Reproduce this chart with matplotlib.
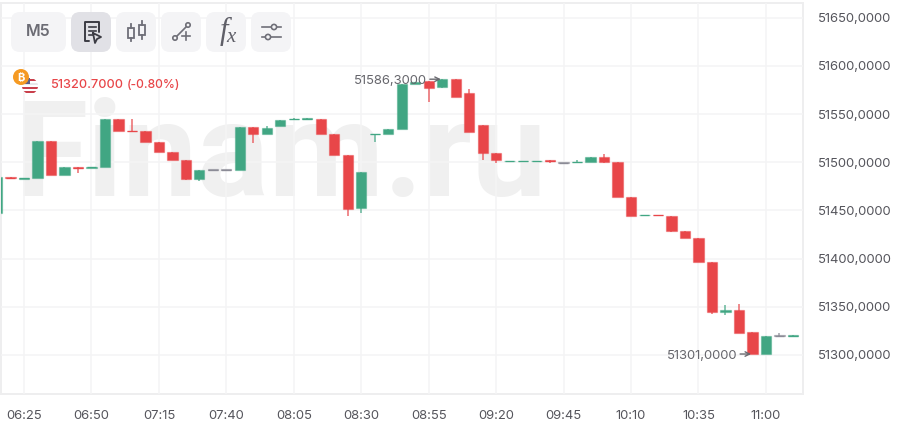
import matplotlib
matplotlib.use("Agg")
import matplotlib.pyplot as plt
from matplotlib.patches import FancyBboxPatch, Circle, Rectangle

plt.rcParams['font.family'] = ['Inter', 'DejaVu Sans']

# M5 candles, 06:15 - 11:10
opens = [51447.4, 51484.8, 51483.0, 51483.7, 51522.4, 51486.4, 51495.1, 51494.6, 51495.1, 51544.6,
         51533.0, 51532.5, 51521.1, 51510.7, 51502.9, 51482.7, 51492.0, 51492.0, 51492.3, 51536.7,
         51529.0, 51538.2, 51544.6, 51545.0, 51545.3, 51529.4, 51507.1, 51452.6, 51529.0, 51529.4,
         51535.1, 51581.3, 51584.4, 51578.7, 51586.0, 51572.0, 51539.0, 51509.7, 51501.0, 51501.0,
         51501.0, 51501.9, 51499.8, 51500.0, 51500.3, 51505.5, 51500.3, 51464.0, 51444.9, 51445.6,
         51444.6, 51429.0, 51421.1, 51396.8, 51345.0, 51347.2, 51323.9, 51301.0, 51319.7, 51319.5]
closes = [51484.8, 51483.7, 51484.0, 51522.4, 51486.4, 51495.1, 51494.1, 51495.4, 51544.6, 51533.0,
          51532.3, 51521.1, 51510.7, 51502.9, 51482.7, 51492.0, 51492.0, 51492.0, 51536.7, 51529.0,
          51535.3, 51544.4, 51545.4, 51545.6, 51529.4, 51507.1, 51451.5, 51490.0, 51529.8, 51535.1,
          51581.3, 51583.4, 51577.1, 51586.3, 51568.3, 51532.0, 51509.7, 51501.9, 51501.8, 51501.8,
          51501.8, 51501.0, 51499.8, 51500.6, 51505.5, 51500.3, 51464.0, 51444.6, 51445.6, 51444.9,
          51429.0, 51421.1, 51396.8, 51344.9, 51346.7, 51322.8, 51301.0, 51319.7, 51319.7, 51320.7]
highs = [51484.8, 51484.8, 51484.0, 51522.4, 51522.4, 51495.1, 51495.1, 51495.4, 51544.6, 51544.6,
         51544.6, 51532.5, 51521.1, 51510.7, 51502.9, 51492.0, 51492.0, 51492.0, 51536.7, 51536.7,
         51538.2, 51544.4, 51546.0, 51545.6, 51545.3, 51529.4, 51507.1, 51490.0, 51529.8, 51535.1,
         51581.3, 51583.4, 51584.4, 51586.3, 51586.0, 51576.0, 51539.0, 51509.7, 51501.8, 51501.8,
         51501.8, 51501.9, 51499.8, 51502.5, 51505.5, 51508.6, 51500.3, 51464.0, 51445.6, 51445.6,
         51444.6, 51429.0, 51421.1, 51396.8, 51352.4, 51352.9, 51323.9, 51319.7, 51322.8, 51320.7]
lows = [51447.4, 51483.7, 51483.0, 51483.7, 51486.4, 51486.4, 51488.9, 51494.6, 51495.1, 51533.0,
        51532.3, 51521.1, 51510.7, 51502.9, 51481.5, 51480.5, 51492.0, 51492.0, 51492.3, 51520.1,
        51529.0, 51538.2, 51544.0, 51545.0, 51529.4, 51507.1, 51444.8, 51447.4, 51521.6, 51529.4,
        51535.1, 51581.3, 51562.6, 51577.0, 51568.3, 51532.0, 51501.9, 51499.3, 51501.0, 51501.0,
        51501.0, 51499.3, 51499.8, 51500.0, 51500.3, 51499.3, 51464.0, 51444.6, 51444.9, 51444.9,
        51428.0, 51421.1, 51396.8, 51342.6, 51341.5, 51322.8, 51301.0, 51301.0, 51319.7, 51319.5]

time_labels = ['06:25', '06:50', '07:15', '07:40', '08:05', '08:30', '08:55', '09:20', '09:45', '10:10', '10:35', '11:00']
price_ticks = [51300, 51350, 51400, 51450, 51500, 51550, 51600, 51650]

GREEN = '#41a683'
RED = '#e84649'
GRAY = '#8b8b96'
TXT = '#55555c'

W, H = 901, 422
fig = plt.figure(figsize=(W / 100, H / 100), dpi=100, facecolor='white')

# chart area is px 1..803 / 3..394
ax = fig.add_axes([1 / W, (H - 394) / H, 802 / W, 391 / H])
ax.set_xlim(0.295, 59.75)
ax.set_ylim(51259.5, 51665.4)

# watermark
ax.text(0.0165, 0.507, 'Finam.ru', transform=ax.transAxes, fontsize=96, fontweight='bold', family='Roboto',
        color='#f0f0f0', ha='left', va='baseline', zorder=0)

ax.set_axisbelow(False)
ax.grid(True, color='#f4f4f5', lw=1.1, zorder=1)
for s in ax.spines.values():
    s.set_color('#eeeeef')
    s.set_linewidth(1.4)

for i in range(len(opens)):
    o, c = opens[i], closes[i]
    col = GREEN if c > o else RED if c < o else GRAY
    ax.vlines(i, lows[i], highs[i], color=col, lw=1.1, alpha=0.8, zorder=3)
    ax.bar(i, max(abs(c - o), 0.6), bottom=min(o, c), width=0.76, color=col,
           edgecolor=matplotlib.colors.to_rgba(col, 0.45), lw=0.9, zorder=4)
    # very thin bodies still show as a solid dash
    if abs(c - o) < 1.5:
        ax.hlines((o + c) / 2, i - 0.36, i + 0.36, color=col, lw=0.9, zorder=5)

ax.set_xticks(range(2, 60, 5))
ax.set_xticklabels(time_labels)
ax.set_yticks(price_ticks)
ax.set_yticklabels([f'{p},0000' for p in price_ticks])
ax.yaxis.tick_right()
ax.tick_params(axis='both', length=0, labelsize=9.4, labelcolor=TXT)
ax.tick_params(axis='x', pad=11.5)
ax.tick_params(axis='y', pad=10.8)

# max / min labels
imax = highs.index(max(highs))
imin = lows.index(min(lows))
for idx, val in [(imax, highs[imax]), (imin, lows[imin])]:
    ax.annotate('', xy=(idx - 0.1, val), xytext=(-11, 0), textcoords='offset pixels',
                arrowprops=dict(arrowstyle='->', color='#6a6a70', lw=1.0, mutation_scale=8, shrinkA=0, shrinkB=0), zorder=6)
    ax.annotate(f'{val:.4f}'.replace('.', ','), xy=(idx - 0.1, val), xytext=(-14, -2), textcoords='offset pixels',
                ha='right', va='center', fontsize=9.4, color='#66666c', zorder=6)

# overlay in pixel coords for toolbar etc
ov = fig.add_axes([0, 0, 1, 1], zorder=10)
ov.set_xlim(0, W)
ov.set_ylim(H, 0)
ov.axis('off')
ov.patch.set_alpha(0)

# toolbar buttons
buttons = [(11, 55, '#f4f4f6'), (71, 40, '#e1e1e6'), (116, 40, '#f4f4f6'),
           (161, 40, '#f4f4f6'), (206, 40, '#f4f4f6'), (251, 40, '#f4f4f6')]
for bx, bw, bc in buttons:
    ov.add_patch(FancyBboxPatch((bx, 12), bw, 40, boxstyle='round,pad=0,rounding_size=9', fc=bc, ec='none'))

ov.text(38.5, 32, 'M5', fontsize=11.5, fontweight='semibold', color='#6c6c74', ha='center', va='center')

# report icon
dk = '#3c3c44'
ov.plot([89, 85, 85, 99, 99], [41, 41, 22, 22, 32], color=dk, lw=1.4, solid_capstyle='round')
ov.plot([88.5, 96], [27, 27], color=dk, lw=1.2)
ov.plot([88.5, 96], [31, 31], color=dk, lw=1.2)
ov.plot([88.5, 93], [35, 35], color=dk, lw=1.2)
ov.plot([93, 101, 97, 95, 93], [33, 37, 39, 43, 33], color=dk, lw=1.3)

# candles icon
ic = '#6f6f78'
ov.add_patch(Rectangle((128, 28), 6, 10, fc='none', ec=ic, lw=1.3))
ov.plot([131, 131], [24, 28], color=ic, lw=1.3)
ov.plot([131, 131], [38, 41], color=ic, lw=1.3)
ov.add_patch(Rectangle((139, 25), 6, 10, fc='none', ec=ic, lw=1.3))
ov.plot([142, 142], [21, 25], color=ic, lw=1.3)
ov.plot([142, 142], [35, 39], color=ic, lw=1.3)

# line tool icon
ov.plot([176, 186], [37, 27], color=ic, lw=1.2)
ov.add_patch(Circle((175, 38), 2.2, fc='#f4f4f6', ec=ic, lw=1.2, zorder=5))
ov.add_patch(Circle((188, 25), 2.2, fc='#f4f4f6', ec=ic, lw=1.2, zorder=5))
ov.plot([182, 190], [36, 36], color=ic, lw=1.2)
ov.plot([186, 186], [32, 40], color=ic, lw=1.2)

# fx
ov.text(224, 31, 'f', family='Liberation Serif', style='italic', fontsize=22, color='#5f5f68', ha='center', va='center')
ov.text(231, 37.5, 'x', family='Liberation Serif', style='italic', fontsize=15, color='#5f5f68', ha='center', va='center')

# settings sliders
ov.plot([262, 281], [27, 27], color=ic, lw=1.2)
ov.plot([262, 281], [37, 37], color=ic, lw=1.2)
ov.add_patch(Circle((274, 27), 2.6, fc='#f4f4f6', ec=ic, lw=1.2, zorder=5))
ov.add_patch(Circle((268, 37), 2.6, fc='#f4f4f6', ec=ic, lw=1.2, zorder=5))

# flag + bitcoin
flag = Circle((30, 86), 8, fc='white', ec='none', zorder=5)
ov.add_patch(flag)
for sy, sc in [(79, '#c9404c'), (83, '#e8e8ea'), (87, '#c9404c'), (91, '#c9404c')]:
    r = Rectangle((22, sy), 16, 2.2, fc=sc, ec='none', zorder=6)
    ov.add_patch(r)
    r.set_clip_path(flag)
canton = Rectangle((22, 78), 8, 6, fc='#5b5f8c', ec='none', zorder=6)
ov.add_patch(canton)
canton.set_clip_path(flag)
ov.add_patch(Circle((21, 77), 8, fc='#f59a23', ec='none', zorder=7))
ov.text(21, 77.5, '₿', fontsize=8, fontweight='bold', color='white', ha='center', va='center', zorder=8,
        family=['Inter', 'Noto Sans', 'Roboto', 'Open Sans', 'Lato', 'Noto Sans CJK SC'])

ov.text(50.5, 85, '51320.7000', fontsize=9.1, fontweight='medium', color='#e84649', ha='left', va='center')
ov.text(127, 85, '(-0.80%)', fontsize=8.7, fontweight='medium', color='#e84649', ha='left', va='center')

fig.savefig('out.png', dpi=100)
